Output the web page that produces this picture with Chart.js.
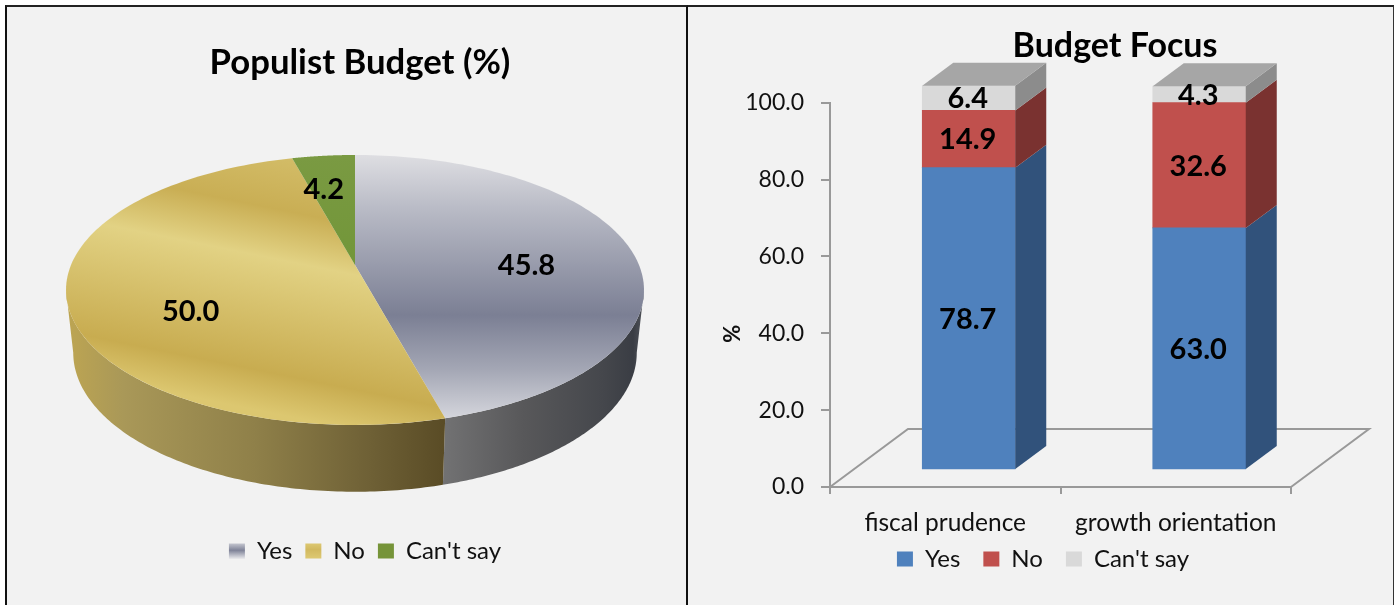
<!DOCTYPE html>
<html>
<head>
<meta charset="utf-8">
<title>Populist Budget and Budget Focus</title>
<script src="https://cdn.jsdelivr.net/npm/chart.js@4"></script>
<style>
    html, body { margin: 0; padding: 0; background: #fff; overflow: hidden; }
    .panel { position: absolute; top: 5px; height: 620px; background: #f2f2f2; box-sizing: border-box; border-top: 2px solid #222; }
    #leftPanel { left: 5px; width: 683px; border-left: 2px solid #111; border-right: 2px solid #111; }
    #rightPanel { left: 688px; width: 706px; border-right: 1px solid #333; }
    canvas { position: absolute; top: 7px; }
    #pieChart { left: 7px; }
    #barChart { left: 689px; }
</style>
</head>
<body>
<div class="panel" id="leftPanel"></div>
<div class="panel" id="rightPanel"></div>
<canvas id="pieChart" width="679" height="598"></canvas>
<canvas id="barChart" width="704" height="598"></canvas>
<script>
// Data
const pieLabels = ['Yes', 'No', "Can't say"];
const pieValues = [45.8, 50.0, 4.2];

const barCategories = ['fiscal prudence', 'growth orientation'];
const yesValues = [78.7, 63.0];
const noValues = [14.9, 32.6];
const cantSayValues = [6.4, 4.3];
const barTicks = [0, 20, 40, 60, 80, 100];

const fontName = 'Lato, Carlito, sans-serif';
const axisGrey = '#999999';

// ===== Tilted pie =====
// the reference pie is in real perspective, so the apex sits above the ellipse centre
const apexY = 258;
const tiltY = 0.459;
const tiltK = 0.185;
const wallFrom = Math.acos(-tiltK);
const wallTo = Math.PI * 2 - wallFrom;

function pieProject(arc, t, r) {
    const w = 1 + tiltK * r * Math.cos(t);
    return {
        x: arc.x + arc.outerRadius * r * Math.sin(t) / w,
        y: apexY - arc.outerRadius * tiltY * r * Math.cos(t) / w
    };
}

function pieLower(arc, p) {
    return {
        x: arc.x + (p.x - arc.x) * 0.975,
        y: apexY + (p.y - apexY) * 1.03 + 62
    };
}

class Arc3D extends Chart.ArcElement {
    static id = 'arc3d';
    static defaults = Chart.ArcElement.defaults;
    static defaultRoutes = Chart.ArcElement.defaultRoutes;

    draw(ctx) {
        const start = this.startAngle + Math.PI / 2;
        const end = this.endAngle + Math.PI / 2;
        const steps = 120;

        // side wall, only on the front half
        const from = Math.max(start, wallFrom);
        const to = Math.min(end, wallTo);
        if (to > from && this.options.borderColor) {
            ctx.beginPath();
            for (let i = 0; i <= steps; i++) {
                const p = pieProject(this, from + (to - from) * i / steps, 1);
                if (i === 0) ctx.moveTo(p.x, p.y); else ctx.lineTo(p.x, p.y);
            }
            for (let i = steps; i >= 0; i--) {
                const p = pieLower(this, pieProject(this, from + (to - from) * i / steps, 1));
                ctx.lineTo(p.x, p.y);
            }
            ctx.closePath();
            ctx.fillStyle = this.options.borderColor;
            ctx.fill();
        }

        // top face
        ctx.beginPath();
        const apex = pieProject(this, 0, 0);
        ctx.moveTo(apex.x, apex.y);
        for (let i = 0; i <= steps; i++) {
            const p = pieProject(this, start + (end - start) * i / steps, 1);
            ctx.lineTo(p.x, p.y);
        }
        ctx.closePath();
        ctx.fillStyle = this.options.backgroundColor;
        ctx.fill();
    }
}

class Pie3DController extends Chart.PieController {
    static id = 'pie3d';
    static defaults = { dataElementType: 'arc3d' };
}

Chart.register(Arc3D, Pie3DController);

function gradient(ctx, x0, y0, x1, y1, stops) {
    const g = ctx.createLinearGradient(x0, y0, x1, y1);
    stops.forEach(s => g.addColorStop(s[0], s[1]));
    return g;
}

const ctxPie = document.getElementById('pieChart').getContext('2d');

const yesTop = gradient(ctxPie, 0, 148, 0, 415, [
    [0, '#dedee2'], [0.2, '#b9bbc6'], [0.6, '#7b7f94'], [0.8, '#a3a6b4'], [1, '#d8d9df']
]);
const noTop = gradient(ctxPie, 348, 133, 290, 421, [
    [0, '#d8c472'], [0.283, '#c9ae54'], [0.45, '#e2d284'], [0.833, '#c8ac50'], [0.967, '#dcc770'], [1, '#dcc770']
]);
const sayTop = gradient(ctxPie, 0, 148, 0, 260, [[0, '#7a9a42'], [1, '#729639']]);
const yesWall = gradient(ctxPie, 436, 0, 636, 0, [
    [0, '#727273'], [0.4, '#58585a'], [0.8, '#45474c'], [0.95, '#3a3d44'], [1, '#50535a']
]);
const noWall = gradient(ctxPie, 60, 0, 436, 0, [
    [0, '#bda552'], [0.15, '#a99858'], [0.5, '#8f8049'], [0.8, '#6f6136'], [1, '#5a4c26']
]);

const pieLabelNudge = [[5, 11], [5, 26], [-11, -6]];

const piePlugin = {
    id: 'piePlugin',
    afterLayout(chart) {
        chart.titleBlock.left += 5;
        chart.titleBlock.right += 5;
        chart.legend.left += 10;
        chart.legend.right += 10;
    },
    beforeDraw(chart) {
        // swatches get their own small gradients, the slice ones are in canvas coordinates
        const mid = (chart.legend.top + chart.legend.bottom) / 2;
        const c = chart.ctx;
        const items = chart.legend.legendItems;
        items[0].fillStyle = gradient(c, 0, mid - 8, 0, mid + 8, [[0, '#d8d9df'], [0.55, '#7f8398'], [1, '#d8d9df']]);
        items[1].fillStyle = gradient(c, 0, mid - 8, 0, mid + 8, [[0, '#e0cd78'], [0.5, '#d2b95f'], [1, '#dcc770']]);
        items[2].fillStyle = '#769439';
    },
    afterDatasetsDraw(chart) {
        const c = chart.ctx;
        c.save();
        c.font = 'bold 29px ' + fontName;
        c.fillStyle = '#000';
        c.textAlign = 'center';
        c.textBaseline = 'middle';
        chart.getDatasetMeta(0).data.forEach((arc, i) => {
            const mid = (arc.startAngle + arc.endAngle) / 2 + Math.PI / 2;
            const p = pieProject(arc, mid, 0.6);
            c.fillText(pieValues[i].toFixed(1), p.x + pieLabelNudge[i][0], p.y + pieLabelNudge[i][1]);
        });
        c.restore();
    }
};

const populistChart = new Chart(ctxPie, {
    type: 'pie3d',
    data: {
        labels: pieLabels,
        datasets: [{
            data: pieValues,
            radius: 284,
            backgroundColor: [yesTop, noTop, sayTop],
            borderColor: [yesWall, noWall, sayTop],
            borderWidth: 0
        }]
    },
    options: {
        responsive: false,
        animation: false,
        events: [],
        layout: { padding: { left: 17, bottom: 32 } },
        plugins: {
            title: {
                display: true,
                text: 'Populist Budget (%)',
                color: '#000',
                font: { family: fontName, size: 34.7, weight: 'bold' },
                padding: { top: 35, bottom: 10 }
            },
            legend: {
                position: 'bottom',
                labels: { color: '#111', font: { family: fontName, size: 24 }, boxWidth: 16, boxHeight: 15, padding: 13 }
            },
            tooltip: { enabled: false }
        }
    },
    plugins: [piePlugin]
});

// ===== 3D stacked bars =====
const barShift = { x: 23.5, y: -17 };
const barDepth = { x: 31, y: 23 };
const floorDepth = { x: 78, y: 58 };
const sideColors = ['#31527b', '#7a3230', '#8c8c8c'];
const topColor = '#a6a6a6';

function fillPoly(c, pts, color) {
    c.beginPath();
    pts.forEach((p, i) => i ? c.lineTo(p[0], p[1]) : c.moveTo(p[0], p[1]));
    c.closePath();
    c.fillStyle = color;
    c.fill();
}

const barPlugin = {
    id: 'barPlugin',
    afterLayout(chart) {
        chart.titleBlock.left += 125;
        chart.titleBlock.right += 125;
        chart.legend.left += 53;
        chart.legend.right += 53;
        // the x axis box has to hold its labels, the legend then moves back up over its margin
        chart.legend.top -= 18;
        chart.legend.bottom -= 18;
    },
    beforeDatasetsDraw(chart) {
        const c = chart.ctx;
        const a = chart.chartArea;
        c.save();
        c.strokeStyle = axisGrey;
        c.lineWidth = 2;
        c.beginPath();
        c.moveTo(a.left, a.bottom);
        c.lineTo(a.left + floorDepth.x, a.bottom - floorDepth.y);
        c.lineTo(a.right + floorDepth.x, a.bottom - floorDepth.y);
        c.lineTo(a.right, a.bottom);
        c.stroke();
        c.restore();
        // bars stand further back on the floor than the axis
        c.save();
        c.translate(barShift.x, barShift.y);
    },
    afterDatasetsDraw(chart) {
        const c = chart.ctx;
        const last = chart.data.datasets.length - 1;
        chart.data.datasets.forEach((ds, d) => {
            chart.getDatasetMeta(d).data.forEach(bar => {
                const l = bar.x - bar.width / 2;
                const r = bar.x + bar.width / 2;
                fillPoly(c, [[r, bar.y], [r + barDepth.x, bar.y - barDepth.y], [r + barDepth.x, bar.base - barDepth.y], [r, bar.base]], sideColors[d]);
                if (d === last) {
                    fillPoly(c, [[l, bar.y], [l + barDepth.x, bar.y - barDepth.y], [r + barDepth.x, bar.y - barDepth.y], [r, bar.y]], topColor);
                }
            });
        });
        c.font = 'bold 29px ' + fontName;
        c.fillStyle = '#000';
        c.textAlign = 'center';
        c.textBaseline = 'middle';
        chart.data.datasets.forEach((ds, d) => {
            chart.getDatasetMeta(d).data.forEach((bar, i) => {
                c.fillText(ds.data[i].toFixed(1), bar.x - 1, (bar.y + bar.base) / 2 + 1);
            });
        });
        c.restore();
    },
    afterDraw(chart) {
        // axis title sits lower than the middle of the axis in the reference
        const c = chart.ctx;
        c.save();
        c.translate(44, chart.chartArea.top + 231);
        c.rotate(-Math.PI / 2);
        c.font = 'bold 22px ' + fontName;
        c.fillStyle = '#111';
        c.textAlign = 'center';
        c.textBaseline = 'middle';
        c.fillText('%', 0, 0);
        c.restore();
    }
};

const ctxBar = document.getElementById('barChart').getContext('2d');
const focusChart = new Chart(ctxBar, {
    type: 'bar',
    data: {
        labels: barCategories,
        datasets: [
            { label: 'Yes', data: yesValues, backgroundColor: '#4f81bd', barThickness: 93, clip: false },
            { label: 'No', data: noValues, backgroundColor: '#c0504d', barThickness: 93, clip: false },
            { label: "Can't say", data: cantSayValues, backgroundColor: '#d9d9d9', barThickness: 93, clip: false }
        ]
    },
    options: {
        responsive: false,
        animation: false,
        events: [],
        layout: { padding: { right: 102, bottom: 6 } },
        scales: {
            x: {
                stacked: true,
                afterFit(scale) { scale.height = 55; },
                border: { color: axisGrey, width: 2 },
                grid: { offset: true, drawOnChartArea: false, color: axisGrey, lineWidth: 2, tickLength: 7 },
                ticks: { color: '#111', font: { family: fontName, size: 24.5 }, padding: 14, maxRotation: 0 }
            },
            y: {
                stacked: true,
                min: barTicks[0],
                max: barTicks[barTicks.length - 1],
                afterFit(scale) { scale.width = 141; },
                border: { color: axisGrey, width: 2 },
                grid: { drawOnChartArea: false, color: axisGrey, lineWidth: 2, tickLength: 9 },
                ticks: {
                    stepSize: barTicks[1] - barTicks[0],
                    color: '#111',
                    font: { family: fontName, size: 23 },
                    padding: 17,
                    callback: v => v.toFixed(1)
                }
            }
        },
        plugins: {
            title: {
                display: true,
                text: 'Budget Focus',
                color: '#000',
                font: { family: fontName, size: 34, weight: 'bold' },
                padding: { top: 19, bottom: 36 }
            },
            legend: {
                position: 'bottom',
                labels: { color: '#111', font: { family: fontName, size: 24 }, boxWidth: 16, boxHeight: 15, padding: 23 }
            },
            tooltip: { enabled: false }
        }
    },
    plugins: [barPlugin]
});
</script>
</body>
</html>
